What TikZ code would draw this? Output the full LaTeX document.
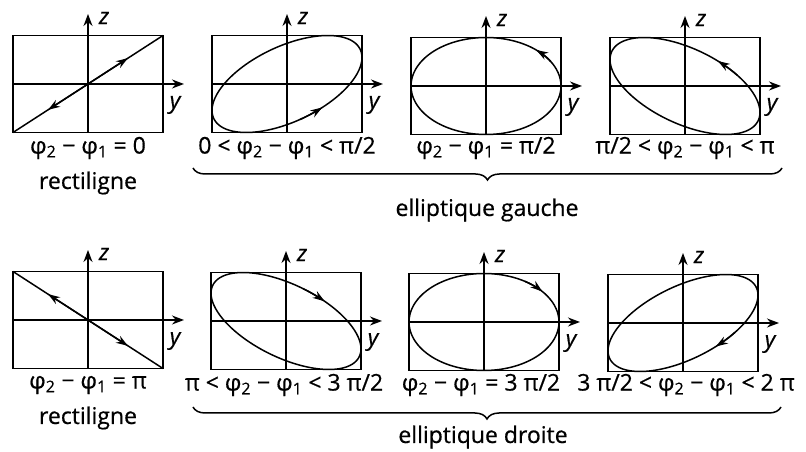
\documentclass[tikz,border=0pt]{standalone}
\usepackage{fontspec}
\setmainfont{Open Sans}
\usetikzlibrary{arrows.meta,decorations.pathreplacing}
\tikzset{
  plotbox/.style={line width=1.6pt},
  axisline/.style={line width=1.5pt, -{Stealth[length=12pt,width=9pt]}},
  orbit/.style={line width=1.5pt},
  sense/.style={line width=1.5pt, -{Stealth[length=12pt,width=8pt]}},
  axlabel/.style={font=\itshape\fontsize{23}{23}\selectfont\addfontfeature{FakeBold=0.6}, inner sep=0pt},
  phase/.style={font=\fontsize{23}{24}\selectfont\addfontfeature{FakeBold=0.6}, inner sep=0pt},
  bracket/.style={decorate, decoration={brace, mirror, amplitude=12pt}, line width=1.5pt}
}
\newcommand{\ph}[1]{φ\textsubscript{#1}}

\begin{document}
\begin{tikzpicture}[x=1pt,y=1pt]
  \useasboundingbox (0,0) rectangle (806,452);
  % panel origins
  \coordinate (a1) at (88,368);
  \coordinate (a2) at (287,368);
  \coordinate (a3) at (486,366);
  \coordinate (a4) at (685,366);
  \coordinate (b1) at (88,132);
  \coordinate (b2) at (286,131);
  \coordinate (b3) at (484,130);
  \coordinate (b4) at (683,129);

  % frames and axes
  \foreach \o in {a1,a2,a3,a4,b1,b2,b3,b4}{
    \begin{scope}[shift={(\o)}]
      \draw[plotbox] (-75,-48.5) rectangle (75,48.5);
      \draw[axisline] (0,-48.5) -- (0,70);
      \draw[axisline] (-75,0) -- (96,0);
      \node[axlabel] (\o z) at (16,66) {z};
      \node[axlabel] (\o y) at (87,-21) {y};
    \end{scope}
  }

  % rectilinear cases
  \draw[orbit, shift={(a1)}] (-75,-48.5) -- (75,48.5);
  \draw[sense, shift={(a1)}] (0,0) -- (40,25.9);
  \draw[sense, shift={(a1)}] (0,0) -- (-40,-25.9);
  \draw[orbit, shift={(b1)}] (-75,48.5) -- (75,-48.5);
  \draw[sense, shift={(b1)}] (0,0) -- (-40,25.9);
  \draw[sense, shift={(b1)}] (0,0) -- (40,-25.9);

  % left-handed ellipses
  \draw[orbit, shift={(a2)}] plot[domain=0:356, samples=90, smooth cycle] ({75*cos(\x)},{48.5*cos(\x-57)});
  \draw[sense, shift={(a2)}] plot[domain=-80:-62, samples=10, smooth] ({75*cos(\x)},{48.5*cos(\x-57)});
  \draw[orbit, shift={(a3)}] plot[domain=0:356, samples=90, smooth cycle] ({75*cos(\x)},{48.5*cos(\x-90)});
  \draw[sense, shift={(a3)}] plot[domain=30:48, samples=10, smooth] ({75*cos(\x)},{48.5*cos(\x-90)});
  \draw[orbit, shift={(a4)}] plot[domain=0:356, samples=90, smooth cycle] ({75*cos(\x)},{48.5*cos(\x-123)});
  \draw[sense, shift={(a4)}] plot[domain=46:64, samples=10, smooth] ({75*cos(\x)},{48.5*cos(\x-123)});

  % right-handed ellipses
  \draw[orbit, shift={(b2)}] plot[domain=0:356, samples=90, smooth cycle] ({75*cos(\x)},{48.5*cos(\x+125)});
  \draw[sense, shift={(b2)}] plot[domain=-77:-59, samples=10, smooth] ({75*cos(\x)},{48.5*cos(\x+125)});
  \draw[orbit, shift={(b3)}] plot[domain=0:356, samples=90, smooth cycle] ({75*cos(\x)},{48.5*cos(\x+90)});
  \draw[sense, shift={(b3)}] plot[domain=-57:-39, samples=10, smooth] ({75*cos(\x)},{48.5*cos(\x+90)});
  \draw[orbit, shift={(b4)}] plot[domain=0:356, samples=90, smooth cycle] ({75*cos(\x)},{48.5*cos(\x+55)});
  \draw[sense, shift={(b4)}] plot[domain=46:64, samples=10, smooth] ({75*cos(\x)},{48.5*cos(\x+55)});

  % phase conditions
  \node[phase] (l1) at (88,304) {\ph2 − \ph1 = 0};
  \node[phase] (l2) at (287,304) {0 < \ph2 − \ph1 < π/2};
  \node[phase] (l3) at (486,304) {\ph2 − \ph1 = π/2};
  \node[phase] (l4) at (685,304) {π/2 < \ph2 − \ph1 < π};
  \node[phase] (m1) at (88,67) {\ph2 − \ph1 = π};
  \node[phase] (m2) at (284,67) {π < \ph2 − \ph1 < 3 π/2};
  \node[phase] (m3) at (481,67) {\ph2 − \ph1 = 3 π/2};
  \node[phase] (m4) at (686,67) {3 π/2 < \ph2 − \ph1 < 2 π};
  \node[phase] (r1) at (88,269) {rectiligne};
  \node[phase] (r2) at (88,34) {rectiligne};

  % groupings
  \coordinate (ga) at (193,284);
  \coordinate (gb) at (782,284);
  \coordinate (da) at (193,45);
  \coordinate (db) at (781,45);
  \draw[bracket] (ga) -- (gb);
  \draw[bracket] (da) -- (db);
  \node[phase] (gauche) at (487,242) {elliptique gauche};
  \node[phase] (droite) at (483,15) {elliptique droite};
\end{tikzpicture}
\end{document}
